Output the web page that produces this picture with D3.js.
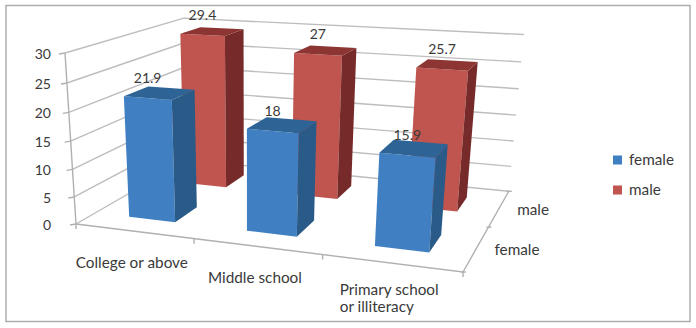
<!DOCTYPE html>
<html lang="en">
<head>
<meta charset="UTF-8">
<title>3D bars by education and sex</title>
<script src="https://d3js.org/d3.v7.min.js"></script>
<style>
    html, body { margin: 0; background: #fff; overflow: hidden; }
    svg { display: block; }
    text { font-family: Lato, "Open Sans", sans-serif; font-size: 14px; fill: #3a3a3a; }
    text.name { font-size: 15.3px; }
    .grid { fill: none; stroke: #bdbdbd; stroke-width: 1.4; }
    .axis { fill: none; stroke: #b0b0b0; stroke-width: 1.4; }
</style>
</head>
<body>
<script>
    const categories = ["College or above", "Middle school", "Primary school\nor illiteracy"];
    const seriesNames = ["female", "male"];
    const female = [21.9, 18, 15.9];
    const male = [29.4, 27, 25.7];
    const valueTicks = [0, 5, 10, 15, 20, 25, 30];

    const width = 696, height = 328;

    const colors = {
        female: { front: "#3f80c2", side: "#2a5a88", top: "#2e6496" },
        male: { front: "#c0554f", side: "#772c2b", top: "#8c3532" }
    };

    const svg = d3.select("body").append("svg")
        .attr("width", width)
        .attr("height", height);

    const soft = svg.append("defs").append("filter").attr("id", "soft");
    soft.append("feGaussianBlur").attr("stdDeviation", 0.45);

    svg.append("rect")
        .attr("x", 6).attr("y", 5.5)
        .attr("width", 684).attr("height", 316)
        .attr("fill", "#fff")
        .attr("stroke", "#adadad")
        .attr("stroke-width", 1.5);

    // scales work in the unit cube, project() then takes the cube to the screen
    const xBand = d3.scaleBand().domain(categories).range([0, 1]).paddingInner(0.6).paddingOuter(0.3);
    const zBand = d3.scaleBand().domain(seriesNames).range([0, 1]).paddingInner(0.6).paddingOuter(0.3);
    const yScale = d3.scaleLinear().domain([0, 30]).range([0, 1]);

    // perspective: corners of the cube next to the origin, and weight per axis
    const O = [76, 224], X = [463, 272], Y = [65, 53], Z = [187, 160];
    const wx = 0.878, wy = 0.94, wz = 1.22;

    function project(x, y, z) {
        const w = 1 + x * (wx - 1) + y * (wy - 1) + z * (wz - 1);
        return [0, 1].map(i =>
            (O[i] + x * (wx * X[i] - O[i]) + y * (wy * Y[i] - O[i]) + z * (wz * Z[i] - O[i])) / w);
    }

    const line = d3.line();
    const chart = svg.append("g").attr("filter", "url(#soft)");

    // gridlines run along the left wall and then the back wall
    chart.append("g").selectAll("path")
        .data(valueTicks)
        .join("path")
        .attr("class", "grid")
        .attr("d", v => {
            const y = yScale(v);
            return line([project(0, y, 0), project(0, y, 1), project(1, y, 1)]);
        });

    chart.append("path").attr("class", "axis")
        .attr("d", line([project(0, 0, 0), project(0, 1, 0)]));
    chart.append("path").attr("class", "axis")
        .attr("d", line([project(0, 0, 0), project(1, 0, 0), project(1, 0, 1)]));

    // tick marks
    const tickGroup = chart.append("g");
    valueTicks.forEach(v => {
        const p = project(0, yScale(v), 0);
        tickGroup.append("path").attr("class", "axis")
            .attr("d", line([[p[0] - 6, p[1] + 1], p]));
    });
    d3.range(0, categories.length + 1).forEach(i => {
        const p = project(i / categories.length, 0, 0);
        tickGroup.append("path").attr("class", "axis")
            .attr("d", line([p, [p[0], p[1] + 5]]));
    });
    d3.range(0, seriesNames.length + 1).forEach(i => {
        const p = project(1, 0, i / seriesNames.length);
        tickGroup.append("path").attr("class", "axis")
            .attr("d", line([[p[0] - 2, p[1]], [p[0] + 3, p[1]]]));
    });

    // back row first so the front row covers it
    const rows = [{ name: "male", values: male }, { name: "female", values: female }];

    rows.forEach(row => {
        const z0 = zBand(row.name), z1 = z0 + zBand.bandwidth();
        const c = colors[row.name];
        const bars = chart.append("g").selectAll("g")
            .data(categories.map((cat, i) => ({ cat, value: row.values[i] })))
            .join("g");

        const face = (d, pts) => line(pts.map(p => project(p[0], p[1], p[2]))) + "Z";

        bars.append("path").attr("fill", c.front).attr("d", d => {
            const x0 = xBand(d.cat), x1 = x0 + xBand.bandwidth(), y = yScale(d.value);
            return face(d, [[x0, 0, z0], [x1, 0, z0], [x1, y, z0], [x0, y, z0]]);
        });
        bars.append("path").attr("fill", c.side).attr("d", d => {
            const x1 = xBand(d.cat) + xBand.bandwidth(), y = yScale(d.value);
            return face(d, [[x1, 0, z0], [x1, 0, z1], [x1, y, z1], [x1, y, z0]]);
        });
        bars.append("path").attr("fill", c.top).attr("d", d => {
            const x0 = xBand(d.cat), x1 = x0 + xBand.bandwidth(), y = yScale(d.value);
            return face(d, [[x0, y, z0], [x1, y, z0], [x1, y, z1], [x0, y, z1]]);
        });
    });

    // data labels sit above the front edge of the top face
    rows.forEach(row => {
        const z = zBand(row.name);
        categories.forEach((cat, i) => {
            const p = project(xBand(cat) + xBand.bandwidth() / 2, yScale(row.values[i]), z);
            svg.append("text")
                .attr("x", p[0])
                .attr("y", p[1] - 15)
                .attr("text-anchor", "middle")
                .text(row.values[i]);
        });
    });

    valueTicks.forEach(v => {
        const p = project(0, yScale(v), 0);
        svg.append("text")
            .attr("x", 51)
            .attr("y", p[1] + 6)
            .attr("text-anchor", "end")
            .text(v);
    });

    categories.forEach(cat => {
        const p = project(xBand(cat) + xBand.bandwidth() / 2, 0, 0);
        const lines = cat.split("\n");
        const label = svg.append("text").attr("class", "name");
        lines.forEach((t, i) => {
            label.append("tspan")
                .attr("x", 0)
                .attr("y", p[1] + 37 + i * 17 - (lines.length - 1) * 5)
                .text(t);
        });
        label.attr("transform", `translate(${p[0] - 2 - label.node().getBBox().width / 2},0)`);
    });

    seriesNames.forEach(name => {
        const p = project(1, 0, zBand(name) + zBand.bandwidth() / 2);
        svg.append("text")
            .attr("class", "name")
            .attr("x", p[0] + 18)
            .attr("y", p[1] + 7)
            .text(name);
    });

    // legend
    const legendY = d3.scalePoint().domain(seriesNames).range([160, 190]);
    seriesNames.forEach(name => {
        svg.append("rect")
            .attr("x", 613)
            .attr("y", legendY(name) - 4.5)
            .attr("width", 9)
            .attr("height", 9)
            .attr("fill", colors[name].front);
        svg.append("text")
            .attr("class", "name")
            .attr("x", 629)
            .attr("y", legendY(name) + 5)
            .text(name);
    });
</script>
</body>
</html>
